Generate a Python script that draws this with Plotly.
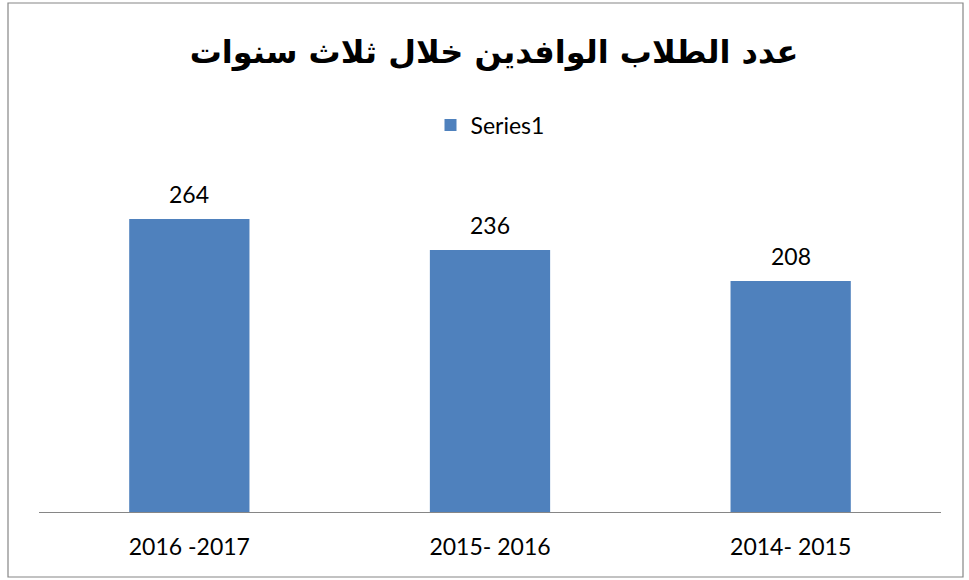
import plotly.graph_objects as go

categories = ["2016 -2017", "2015- 2016", "2014- 2015"]
values = [264, 236, 208]
series_name = "Series1"
title_text = "عدد الطلاب الوافدين خلال ثلاث سنوات"

bar_color = "#4F81BD"
text_font = "Lato, Carlito, Calibri, sans-serif"

fig = go.Figure()
fig.add_trace(go.Bar(
    x=categories, y=values, name=series_name,
    marker=dict(color=bar_color, line=dict(width=0)),
    width=0.4, showlegend=True,
))

for c, v in zip(categories, values):
    fig.add_annotation(x=c, y=v, text=str(v), showarrow=False, yshift=25,
                       font=dict(family=text_font, size=23, color="#000"))

fig.update_layout(
    width=969, height=580,
    margin=dict(l=39, r=28, t=179, b=68),
    paper_bgcolor="white", plot_bgcolor="white",
    title=dict(text=title_text, x=494 / 969, xanchor="center", y=1 - 52 / 580, yanchor="middle",
               yref="container",
               font=dict(family="DejaVu Sans", size=32, color="#000", weight="bold")),
    legend=dict(orientation="h", x=0.5, xanchor="center", y=(512 - 125) / 333, yanchor="middle",
                font=dict(family=text_font, size=23, color="#000"),
                itemwidth=30, bgcolor="rgba(0,0,0,0)"),
    xaxis=dict(showline=True, linecolor="#868686", linewidth=1, ticks="", showgrid=False,
               tickfont=dict(family=text_font, size=23, color="#000"),
               ticklabelstandoff=14, fixedrange=True),
    yaxis=dict(range=[0, 300], visible=False, showgrid=False, fixedrange=True),
    bargap=0.6,
    shapes=[dict(type="rect", xref="paper", yref="paper",
                 x0=(8 - 39) / 902, x1=(963 - 39) / 902,
                 y0=(512 - 577) / 333, y1=(512 - 3) / 333,
                 line=dict(color="#868686", width=1.2), fillcolor="rgba(0,0,0,0)", layer="below")],
)

fig.write_html("out.html", config={"displayModeBar": False},
               post_script="document.body.style.margin='0';")
